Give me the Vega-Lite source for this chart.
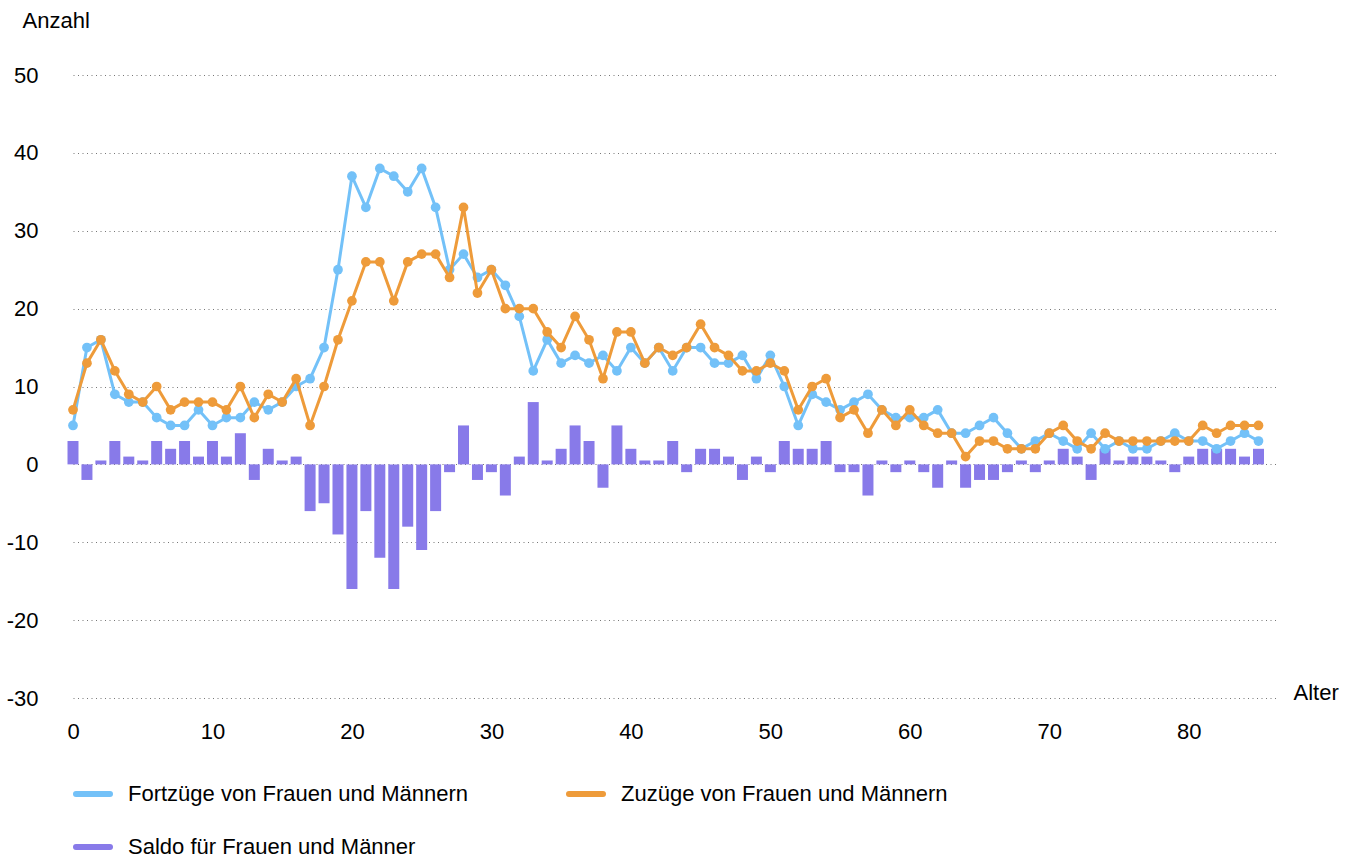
{
  "$schema": "https://vega.github.io/schema/vega-lite/v6.json",
  "width": 1205,
  "height": 623,
  "autosize": {"type": "none"},
  "padding": {"left": 73, "top": 75, "right": 80, "bottom": 164},
  "background": "white",
  "config": {
    "view": {"stroke": null},
    "font": "Liberation Sans",
    "axis": {"labelFont": "Liberation Sans", "titleFont": "Liberation Sans"},
    "legend": {"labelFont": "Liberation Sans"}
  },
  "data": {
    "values": [
      {"a":0,"f":5,"z":7,"s":3},{"a":1,"f":15,"z":13,"s":-2},{"a":2,"f":16,"z":16,"s":0.5},{"a":3,"f":9,"z":12,"s":3},
      {"a":4,"f":8,"z":9,"s":1},{"a":5,"f":8,"z":8,"s":0.5},{"a":6,"f":6,"z":10,"s":3},{"a":7,"f":5,"z":7,"s":2},
      {"a":8,"f":5,"z":8,"s":3},{"a":9,"f":7,"z":8,"s":1},{"a":10,"f":5,"z":8,"s":3},{"a":11,"f":6,"z":7,"s":1},
      {"a":12,"f":6,"z":10,"s":4},{"a":13,"f":8,"z":6,"s":-2},{"a":14,"f":7,"z":9,"s":2},{"a":15,"f":8,"z":8,"s":0.5},
      {"a":16,"f":10,"z":11,"s":1},{"a":17,"f":11,"z":5,"s":-6},{"a":18,"f":15,"z":10,"s":-5},{"a":19,"f":25,"z":16,"s":-9},
      {"a":20,"f":37,"z":21,"s":-16},{"a":21,"f":33,"z":26,"s":-6},{"a":22,"f":38,"z":26,"s":-12},{"a":23,"f":37,"z":21,"s":-16},
      {"a":24,"f":35,"z":26,"s":-8},{"a":25,"f":38,"z":27,"s":-11},{"a":26,"f":33,"z":27,"s":-6},{"a":27,"f":25,"z":24,"s":-1},
      {"a":28,"f":27,"z":33,"s":5},{"a":29,"f":24,"z":22,"s":-2},{"a":30,"f":25,"z":25,"s":-1},{"a":31,"f":23,"z":20,"s":-4},
      {"a":32,"f":19,"z":20,"s":1},{"a":33,"f":12,"z":20,"s":8},{"a":34,"f":16,"z":17,"s":0.5},{"a":35,"f":13,"z":15,"s":2},
      {"a":36,"f":14,"z":19,"s":5},{"a":37,"f":13,"z":16,"s":3},{"a":38,"f":14,"z":11,"s":-3},{"a":39,"f":12,"z":17,"s":5},
      {"a":40,"f":15,"z":17,"s":2},{"a":41,"f":13,"z":13,"s":0.5},{"a":42,"f":15,"z":15,"s":0.5},{"a":43,"f":12,"z":14,"s":3},
      {"a":44,"f":15,"z":15,"s":-1},{"a":45,"f":15,"z":18,"s":2},{"a":46,"f":13,"z":15,"s":2},{"a":47,"f":13,"z":14,"s":1},
      {"a":48,"f":14,"z":12,"s":-2},{"a":49,"f":11,"z":12,"s":1},{"a":50,"f":14,"z":13,"s":-1},{"a":51,"f":10,"z":12,"s":3},
      {"a":52,"f":5,"z":7,"s":2},{"a":53,"f":9,"z":10,"s":2},{"a":54,"f":8,"z":11,"s":3},{"a":55,"f":7,"z":6,"s":-1},
      {"a":56,"f":8,"z":7,"s":-1},{"a":57,"f":9,"z":4,"s":-4},{"a":58,"f":7,"z":7,"s":0.5},{"a":59,"f":6,"z":5,"s":-1},
      {"a":60,"f":6,"z":7,"s":0.5},{"a":61,"f":6,"z":5,"s":-1},{"a":62,"f":7,"z":4,"s":-3},{"a":63,"f":4,"z":4,"s":0.5},
      {"a":64,"f":4,"z":1,"s":-3},{"a":65,"f":5,"z":3,"s":-2},{"a":66,"f":6,"z":3,"s":-2},{"a":67,"f":4,"z":2,"s":-1},
      {"a":68,"f":2,"z":2,"s":0.5},{"a":69,"f":3,"z":2,"s":-1},{"a":70,"f":4,"z":4,"s":0.5},{"a":71,"f":3,"z":5,"s":2},
      {"a":72,"f":2,"z":3,"s":1},{"a":73,"f":4,"z":2,"s":-2},{"a":74,"f":2,"z":4,"s":2},{"a":75,"f":3,"z":3,"s":0.5},
      {"a":76,"f":2,"z":3,"s":1},{"a":77,"f":2,"z":3,"s":1},{"a":78,"f":3,"z":3,"s":0.5},{"a":79,"f":4,"z":3,"s":-1},
      {"a":80,"f":3,"z":3,"s":1},{"a":81,"f":3,"z":5,"s":2},{"a":82,"f":2,"z":4,"s":2},{"a":83,"f":3,"z":5,"s":2},
      {"a":84,"f":4,"z":5,"s":1},{"a":85,"f":3,"z":5,"s":2}
    ]
  },
  "encoding": {
    "x": {
      "field": "a",
      "type": "quantitative",
      "scale": {"domain": [0, 86.4], "nice": false, "zero": false, "padding": 0},
      "axis": {
        "title": "Alter",
        "titleX": 1220,
        "titleY": -6,
        "titleAlign": "left",
        "titleBaseline": "middle",
        "titleAnchor": "start",
        "titleFontSize": 22,
        "titleFontWeight": "normal",
        "titleColor": "#000000",
        "values": [0, 10, 20, 30, 40, 50, 60, 70, 80],
        "grid": false,
        "ticks": false,
        "domain": false,
        "labelPadding": 23,
        "labelFontSize": 22,
        "labelColor": "#000000",
        "labelFlush": false
      }
    }
  },
  "layer": [
    {
      "mark": {"type": "bar", "size": 11},
      "encoding": {
        "y": {
          "field": "s",
          "type": "quantitative",
          "scale": {"domain": [-30, 50], "nice": false},
          "axis": {
            "title": "Anzahl",
            "titleAngle": 0,
            "titleX": -51,
            "titleY": -55,
            "titleAlign": "left",
            "titleBaseline": "middle",
            "titleFontSize": 22,
            "titleFontWeight": "normal",
            "titleColor": "#000000",
            "values": [-30, -20, -10, 0, 10, 20, 30, 40, 50],
            "labelExpr": "'' + datum.value",
            "labelFontSize": 22,
            "labelColor": "#000000",
            "labelPadding": 35,
            "ticks": false,
            "domain": false,
            "grid": true,
            "gridDash": [1, 3.5],
            "gridColor": "#777777",
            "gridWidth": 1
          }
        },
        "color": {
          "datum": "Saldo für Frauen und Männer",
          "scale": {
            "domain": ["Fortzüge von Frauen und Männern", "Zuzüge von Frauen und Männern", "Saldo für Frauen und Männer"],
            "range": ["#73C1F8", "#EE9B3A", "#887AE9"]
          },
          "legend": {
            "orient": "none",
            "legendX": 0,
            "legendY": 699,
            "columns": 2,
            "direction": "horizontal",
            "title": null,
            "padding": 0,
            "symbolType": "stroke",
            "symbolSize": 1156,
            "symbolStrokeWidth": 6,
            "labelFontSize": 22,
            "labelColor": "#000000",
            "labelOffset": 15,
            "labelLimit": 0,
            "columnPadding": 89,
            "rowPadding": 21,
            "encode": {
              "symbols": {
                "update": {
                  "stroke": {"scale": "color", "field": "value"},
                  "fill": {"value": "transparent"},
                  "strokeCap": {"value": "round"},
                  "strokeWidth": {"value": 6}
                }
              }
            }
          }
        }
      }
    },
    {
      "mark": {"type": "line", "strokeWidth": 3, "point": {"filled": true, "size": 95}},
      "encoding": {
        "y": {"field": "f", "type": "quantitative", "scale": {"domain": [-30, 50], "nice": false}, "axis": {"title": "Anzahl"}},
        "color": {"datum": "Fortzüge von Frauen und Männern"}
      }
    },
    {
      "mark": {"type": "line", "strokeWidth": 3, "point": {"filled": true, "size": 95}},
      "encoding": {
        "y": {"field": "z", "type": "quantitative", "scale": {"domain": [-30, 50], "nice": false}, "axis": {"title": "Anzahl"}},
        "color": {"datum": "Zuzüge von Frauen und Männern"}
      }
    }
  ]
}
